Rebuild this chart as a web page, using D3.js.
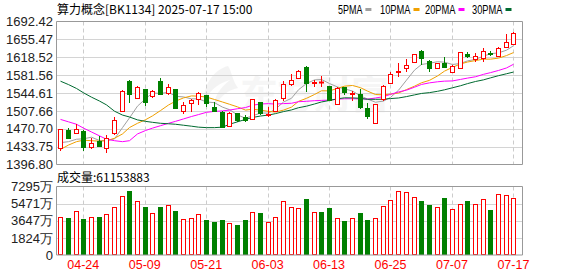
<!DOCTYPE html>
<html><head><meta charset="utf-8">
<script src="https://cdn.jsdelivr.net/npm/d3@7"></script>
<style>
html,body{margin:0;padding:0;background:#fff;}
svg{display:block;}
text{font-family:"Liberation Sans",Arial,sans-serif;}
.cjk{font-family:"Noto Sans CJK SC","Liberation Sans",sans-serif;}
</style></head>
<body><svg id="c" width="578" height="276"></svg>
<script>
const dates = ["04-21","04-22","04-23","04-24","04-25","04-28","04-29","04-30","05-06","05-07","05-08","05-09","05-12","05-13","05-14","05-15","05-16","05-19","05-20","05-21","05-22","05-23","05-26","05-27","05-28","05-29","05-30","06-03","06-04","06-05","06-06","06-09","06-10","06-11","06-12","06-13","06-16","06-17","06-18","06-19","06-20","06-23","06-24","06-25","06-26","06-27","06-30","07-01","07-02","07-03","07-04","07-07","07-08","07-09","07-10","07-11","07-14","07-15","07-16","07-17"];
const open  = [1431.9,1468.1,1462.5,1466.0,1433.6,1445.4,1429.9,1461.3,1507.4,1570.0,1534.9,1552.9,1539.4,1569.8,1543.6,1551.9,1507.4,1523.3,1532.2,1540.1,1515.7,1505.3,1475.4,1502.9,1494.0,1490.2,1525.6,1498.1,1508.0,1533.7,1563.2,1576.2,1598.4,1565.7,1567.0,1559.1,1521.2,1557.0,1541.9,1541.9,1513.0,1483.2,1531.6,1564.7,1587.4,1595.7,1609.3,1631.4,1610.8,1595.7,1606.0,1588.6,1596.9,1624.2,1614.9,1617.6,1626.7,1621.7,1640.3,1645.3];
const high  = [1471.2,1471.6,1479.9,1467.1,1451.0,1454.7,1457.8,1495.6,1549.8,1571.5,1559.1,1553.9,1550.8,1574.6,1563.2,1552.9,1526.6,1531.2,1546.1,1541.5,1526.0,1506.4,1504.3,1503.3,1499.1,1532.2,1527.0,1516.7,1533.2,1568.4,1583.9,1592.2,1599.4,1571.5,1579.8,1560.1,1556.0,1558.0,1548.7,1552.9,1523.3,1522.3,1561.2,1587.4,1607.3,1614.9,1625.2,1632.5,1612.8,1606.6,1618.4,1601.5,1629.4,1628.8,1626.7,1637.0,1631.4,1639.7,1666.6,1669.7];
const low   = [1424.7,1449.5,1460.5,1424.7,1428.8,1435.0,1421.6,1457.8,1505.3,1523.9,1533.2,1517.7,1534.3,1540.5,1540.5,1513.6,1501.8,1506.0,1519.8,1516.3,1506.4,1472.3,1474.3,1484.7,1484.7,1488.8,1499.1,1496.0,1506.4,1529.1,1559.7,1574.6,1546.7,1557.6,1557.6,1528.1,1519.8,1540.5,1528.1,1511.5,1490.9,1480.5,1529.1,1563.2,1578.3,1587.4,1608.7,1602.5,1588.0,1594.8,1595.7,1588.0,1594.2,1617.6,1608.7,1609.3,1621.1,1618.0,1639.1,1643.8];
const close = [1469.6,1452.2,1470.2,1432.4,1441.5,1435.7,1451.0,1488.2,1548.7,1542.5,1557.2,1526.0,1549.4,1543.0,1556.0,1514.6,1519.4,1529.5,1543.6,1523.3,1507.4,1473.3,1503.3,1488.8,1489.8,1531.6,1502.6,1502.2,1530.1,1562.8,1570.9,1590.7,1566.3,1567.8,1567.0,1529.5,1554.3,1547.3,1545.2,1516.3,1497.7,1521.2,1559.1,1583.3,1590.1,1602.5,1624.6,1617.6,1595.7,1606.0,1597.7,1600.4,1628.8,1622.1,1621.7,1631.4,1624.6,1638.3,1649.4,1668.0];
const ma5  = [1442,1444,1449,1450,1453.2,1446.4,1446.2,1449.8,1473.0,1493.2,1517.5,1532.5,1544.8,1543.6,1546.3,1537.8,1536.5,1532.5,1532.6,1526.1,1524.6,1515.4,1510.2,1499.2,1492.5,1497.4,1503.2,1503.0,1511.3,1525.9,1533.7,1551.3,1564.2,1571.7,1572.5,1564.2,1557.0,1553.2,1548.6,1538.5,1532.2,1525.5,1527.9,1535.5,1550.3,1571.2,1591.9,1603.6,1606.1,1609.3,1608.3,1603.5,1605.7,1611.0,1614.1,1620.9,1625.7,1627.6,1633.1,1642.3];
const ma10 = [1428,1437,1444,1447,1446,1445,1446,1451,1460,1473.2,1482.0,1489.3,1497.3,1508.3,1519.8,1527.7,1534.5,1538.6,1538.1,1536.2,1531.2,1526.0,1521.3,1515.9,1509.3,1511.0,1509.3,1506.6,1505.2,1509.2,1515.5,1527.3,1533.6,1541.5,1549.2,1549.0,1554.2,1558.7,1560.2,1555.6,1548.5,1541.5,1540.8,1542.3,1544.6,1551.7,1558.7,1565.8,1570.8,1579.8,1589.8,1597.7,1604.7,1608.6,1611.7,1614.6,1614.6,1616.7,1622.0,1628.2];
const ma20 = [1490,1485,1480,1472,1464,1456,1449,1446,1444,1446,1460,1467,1472,1477,1482,1486,1491,1496,1500,1504.7,1506.6,1507.6,1509.3,1512.1,1514.5,1519.3,1521.9,1522.6,1521.7,1522.7,1523.4,1526.6,1527.5,1528.7,1529.3,1530.0,1531.8,1532.7,1532.7,1532.4,1531.9,1534.3,1537.1,1541.8,1546.8,1550.5,1556.6,1562.3,1565.6,1567.8,1569.1,1569.6,1572.7,1575.4,1578.2,1583.2,1586.7,1591.2,1596.4,1604.0];
const ma30 = [1569,1562,1554,1545,1536,1528,1520,1507,1499,1495,1489,1486,1484,1482,1481,1480,1478,1476,1474,1473,1473,1474,1480,1485,1490,1494,1497,1499,1502,1506.2,1509.6,1514.2,1517.4,1521.9,1526.1,1529.2,1532.6,1534.6,1534.5,1533.6,1531.6,1531.5,1531.8,1533.1,1534.3,1537.2,1540.7,1543.7,1545.4,1548.1,1551.2,1555.4,1559.6,1564.0,1568.4,1571.8,1575.9,1580.4,1584.4,1587.9];
const volume = [4026,3920,4667,3813,4026,4026,4347,5094,6301,6835,5735,5127,4454,5127,5340,4699,3813,3920,4379,3738,3525,3738,3418,3204,3738,4560,4486,3525,4026,5735,5094,4985,5981,4560,4560,4985,3920,3631,3920,4486,3738,3920,5201,5842,6803,6697,6163,5735,5340,5094,6056,4881,5447,5735,5447,5949,4806,6483,6376,6115];
const priceTicks = [1692.42,1655.47,1618.52,1581.56,1544.61,1507.66,1470.70,1433.75,1396.80];
const volTicks = [7295,5471.25,3647.5,1823.75,0];
const volTickLabels = ["7295万","5471万","3647万","1824万","0"];
const dateTicks = ["04-24","05-09","05-21","06-03","06-13","06-25","07-07","07-17"];
const maNames = ["5PMA","10PMA","20PMA","30PMA"];
const maColors = ["#a0a0a0","#f0a000","#ff00ff","#006a30"];
const title = "算力概念[BK1134] 2025-07-17 15:00";
const volTitle = "成交量:61153883";

const RED = "#ff0000", GREEN = "#008000";
const svg = d3.select("#c");
const L = 56, R = 522;
const mainTop = 21.5, mainBot = 164.5, volTop = 186.5, volBot = 255;

const x = d3.scaleBand().domain(dates).range([56.4, 517.2]).padding(0);
const cx = d => Math.round(x(d) + x.bandwidth()/2);
const y = d3.scaleLinear().domain([1396.80, 1692.42]).range([mainBot, mainTop]);
const yv = d3.scaleLinear().domain([0, 7295]).range([volBot, volTop]);

const data = dates.map((d,i)=>({d, o:open[i], h:high[i], l:low[i], c:close[i], v:volume[i], i}));
data.forEach((e,i)=>{
  if (e.c > e.o) e.up = true; else if (e.c < e.o) e.up = false;
  else e.up = i>0 ? e.c >= close[i-1] : true;
  e.candleUp = e.c >= e.o;
});

// watermark
const wm = svg.append("g").attr("opacity",0.45);
wm.append("path").attr("d","M228,66 C214,70 203,84 204,104 C208,92 216,84 230,80 C220,88 214,96 214,108 C220,96 228,90 238,88 C232,80 232,72 228,66 Z").attr("fill","#e6e6e6");
wm.append("text").attr("class","cjk").attr("x",240).attr("y",108).attr("font-size",38).attr("font-weight","bold").attr("fill","#ececec").attr("letter-spacing",-1).text("东方财富");

// grids main
const gMain = svg.append("g");
gMain.selectAll("line.h").data(priceTicks.slice(1,-1)).join("line")
  .attr("x1",L).attr("x2",R).attr("y1",d=>Math.round(y(d))+0.5).attr("y2",d=>Math.round(y(d))+0.5)
  .attr("stroke","#d4d4d4").attr("stroke-width",1);
gMain.selectAll("line.v").data(dateTicks).join("line")
  .attr("x1",d=>cx(d)+0.5).attr("x2",d=>cx(d)+0.5).attr("y1",mainTop).attr("y2",mainBot)
  .attr("stroke","#cccccc").attr("stroke-dasharray","4,3");
// grids vol
const gVol = svg.append("g");
gVol.selectAll("line.h").data(volTicks.slice(1,-1)).join("line")
  .attr("x1",L).attr("x2",R).attr("y1",d=>Math.round(yv(d))+0.5).attr("y2",d=>Math.round(yv(d))+0.5)
  .attr("stroke","#d4d4d4");
gVol.selectAll("line.v").data(dateTicks).join("line")
  .attr("x1",d=>cx(d)+0.5).attr("x2",d=>cx(d)+0.5).attr("y1",volTop).attr("y2",volBot)
  .attr("stroke","#cccccc").attr("stroke-dasharray","4,3");

// MA lines
[ma5,ma10,ma20,ma30].forEach((arr,k)=>{
  const line = d3.line().x((v,i)=>cx(dates[i])+0.5).y(v=>y(v));
  svg.append("path").attr("d",line(arr)).attr("fill","none").attr("stroke",maColors[k]).attr("stroke-width",1);
});

// candles
const gc = svg.append("g");
data.forEach(e=>{
  const c0 = cx(e.d);
  const col = e.candleUp ? RED : GREEN;
  const top = Math.round(y(Math.max(e.o,e.c))), bot = Math.round(y(Math.min(e.o,e.c)));
  const hy = Math.round(y(e.h)), ly = Math.round(y(e.l));
  if (e.candleUp) {
    gc.append("line").attr("x1",c0+0.5).attr("x2",c0+0.5).attr("y1",hy).attr("y2",top).attr("stroke",col);
    gc.append("line").attr("x1",c0+0.5).attr("x2",c0+0.5).attr("y1",bot+1).attr("y2",ly).attr("stroke",col);
    if (bot - top < 1) {
      gc.append("line").attr("x1",c0-2).attr("x2",c0+3).attr("y1",top+0.5).attr("y2",top+0.5).attr("stroke",col).attr("stroke-width",2);
    } else {
      gc.append("rect").attr("x",c0-2+0.5).attr("y",top+0.5).attr("width",4).attr("height",bot-top).attr("fill","#fff").attr("stroke",col);
    }
  } else {
    gc.append("line").attr("x1",c0+0.5).attr("x2",c0+0.5).attr("y1",hy).attr("y2",ly).attr("stroke",col);
    gc.append("rect").attr("x",c0-2).attr("y",top).attr("width",5).attr("height",Math.max(2,bot-top+1)).attr("fill",col);
  }
});

// volume bars
const gv = svg.append("g");
data.forEach(e=>{
  const c0 = cx(e.d);
  const t = Math.round(yv(e.v));
  if (e.up) {
    gv.append("rect").attr("x",c0-2+0.5).attr("y",t+0.5).attr("width",4).attr("height",volBot-t-1).attr("fill","#fff").attr("stroke",RED);
  } else {
    gv.append("rect").attr("x",c0-2).attr("y",t).attr("width",5).attr("height",volBot-t).attr("fill",GREEN);
  }
});

// frames
svg.append("path").attr("d",`M${L+0.5},${mainTop} V${mainBot} H${R+0.5} V${mainTop} Z`).attr("fill","none").attr("stroke","#999");
svg.append("path").attr("d",`M${L+0.5},${volTop} V${volBot} H${R+0.5} V${volTop} Z`).attr("fill","none").attr("stroke","#999");

// axes labels via d3 axes
const yAxis = d3.axisLeft(y).tickValues(priceTicks).tickFormat(d=>d.toFixed(2)).tickSize(0).tickPadding(3);
const ga = svg.append("g").attr("transform",`translate(${L},0)`).call(yAxis);
ga.select(".domain").remove();
ga.selectAll("text").attr("font-size",13).attr("fill","#222").attr("font-family","Liberation Sans,Arial,sans-serif");
const vAxis = d3.axisLeft(yv).tickValues(volTicks).tickFormat((d,i)=>volTickLabels[i]).tickSize(0).tickPadding(3);
const gva = svg.append("g").attr("transform",`translate(${L},0)`).call(vAxis);
gva.select(".domain").remove();
gva.selectAll("text").attr("font-size",13).attr("fill","#222").attr("font-family","Liberation Sans,Noto Sans CJK SC,sans-serif");
const xAxis = d3.axisBottom(x).tickValues(dateTicks).tickSize(0).tickPadding(0);
const gx = svg.append("g").attr("transform",`translate(0,${volBot+3})`).call(xAxis);
gx.select(".domain").remove();
gx.selectAll("text").attr("font-size",12.5).attr("fill",RED).attr("font-family","Liberation Sans,Arial,sans-serif").attr("dy","0.85em");

// titles
svg.append("text").attr("class","cjk").attr("x",57).attr("y",14).attr("font-size",12).attr("fill","#000").text(title);
svg.append("text").attr("class","cjk").attr("x",57).attr("y",182).attr("font-size",12).attr("fill","#000").text(volTitle);

// legend
const legX = [338,380,425,472];
const lg = svg.append("g");
maNames.forEach((n,k)=>{
  const w = n.length * 6.1;
  lg.append("text").attr("x",legX[k]).attr("y",13.5).attr("font-size",12).attr("fill","#000")
    .attr("textLength",w).attr("lengthAdjust","spacingAndGlyphs").text(n);
  lg.append("rect").attr("x",legX[k]+w+3).attr("y",8).attr("width",6).attr("height",3).attr("fill",maColors[k]);
});
</script></body></html>
